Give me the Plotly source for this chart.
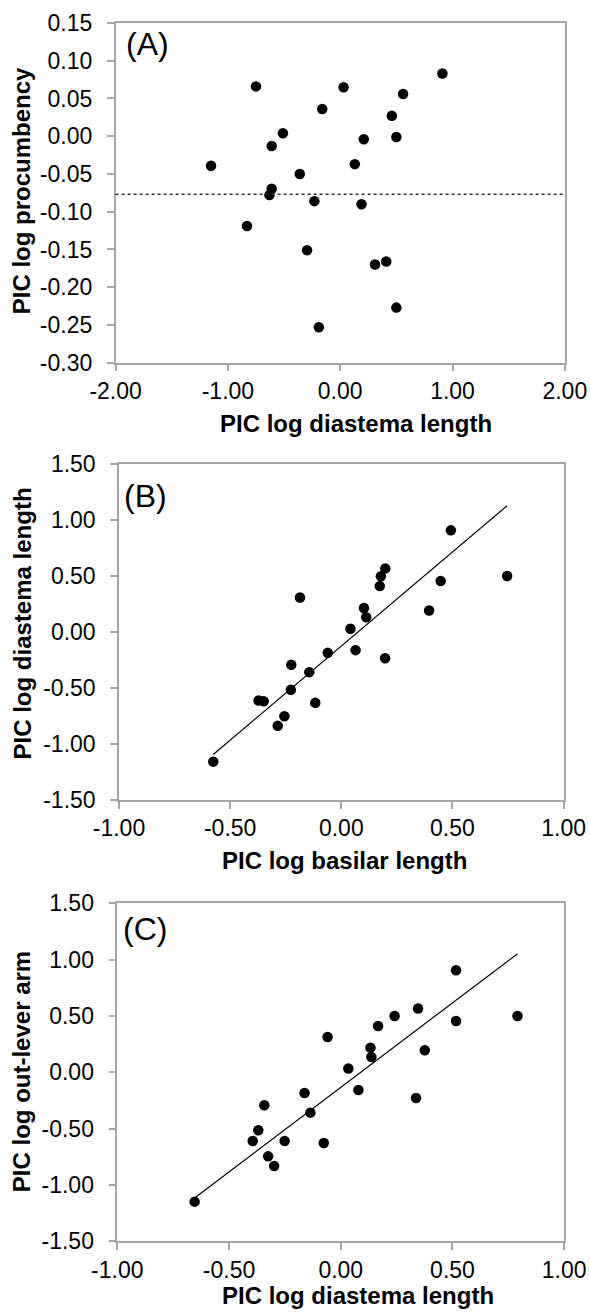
import plotly.graph_objects as go

# ---------------- data ----------------
# Panel A: PIC log diastema length (x) vs PIC log procumbency (y)
a_x = [0.91, -0.75, 0.03, 0.56, -0.16, 0.46, -0.51, 0.21, 0.50, -0.61, -1.15, 0.13,
       -0.36, -0.61, -0.63, -0.23, 0.19, -0.83, -0.295, 0.31, 0.41, 0.50, -0.19]
a_y = [0.083, 0.066, 0.065, 0.056, 0.036, 0.027, 0.004, -0.004, -0.001, -0.013, -0.039, -0.037,
       -0.050, -0.0695, -0.078, -0.086, -0.090, -0.119, -0.151, -0.170, -0.166, -0.227, -0.253]
a_ref_line = -0.077

# Panel B: PIC log basilar length (x) vs PIC log diastema length (y)
b_x = [0.493, 0.746, 0.198, 0.178, 0.173, 0.447, -0.186, 0.102, 0.112, 0.395, 0.041, -0.061,
       0.064, 0.197, -0.225, -0.144, -0.227, -0.372, -0.349, -0.117, -0.256, -0.286, -0.576]
b_y = [0.904, 0.497, 0.565, 0.494, 0.407, 0.452, 0.306, 0.211, 0.130, 0.190, 0.027, -0.188,
       -0.164, -0.236, -0.295, -0.360, -0.518, -0.613, -0.619, -0.634, -0.753, -0.839, -1.158]
b_slope, b_intercept = 1.678, -0.128

# Panel C: PIC log diastema length (x) vs PIC log out-lever arm (y)
c_x = [0.516, 0.791, 0.346, 0.241, 0.516, 0.167, -0.059, 0.133, 0.137, 0.376, 0.034, -0.162,
       0.079, 0.337, -0.342, -0.136, -0.369, -0.394, -0.251, -0.076, -0.325, -0.298, -0.654]
c_y = [0.906, 0.500, 0.566, 0.500, 0.456, 0.411, 0.314, 0.219, 0.136, 0.195, 0.033, -0.184,
       -0.157, -0.228, -0.293, -0.358, -0.515, -0.610, -0.610, -0.628, -0.746, -0.832, -1.148]
c_slope, c_intercept = 1.50, -0.134

a_xticks = [-2.0, -1.0, 0.0, 1.0, 2.0]
a_yticks = [-0.30, -0.25, -0.20, -0.15, -0.10, -0.05, 0.00, 0.05, 0.10, 0.15]
bc_xticks = [-1.0, -0.5, 0.0, 0.5, 1.0]
bc_yticks = [-1.5, -1.0, -0.5, 0.0, 0.5, 1.0, 1.5]

panel_labels = ["(A)", "(B)", "(C)"]
x_titles = ["PIC log diastema length", "PIC log basilar length", "PIC log diastema length"]
y_titles = ["PIC log procumbency", "PIC log diastema length", "PIC log out-lever arm"]

# ---------------- layout helpers ----------------
W, H = 590, 1313
FONT = "Liberation Sans, Arial, sans-serif"
AX_COLOR = "#A6A6A6"


def px_x(p):
    return p / W


def px_y(p):
    return 1 - p / H


def fmt(v):
    return f"{v:.2f}"


# plot-area pixel boxes: (left, right, top, bottom)
boxes = [(115.6, 564.8, 23.0, 362.7),
         (119.0, 563.6, 463.5, 800.0),
         (117.3, 564.2, 903.3, 1241.3)]
x_standoffs = [0, 0, 0]

fig = go.Figure()

marker = dict(color="black", size=10.5, line=dict(width=0))

fig.add_trace(go.Scatter(x=a_x, y=a_y, mode="markers", marker=marker,
                         xaxis="x", yaxis="y", showlegend=False))
fig.add_trace(go.Scatter(x=b_x, y=b_y, mode="markers", marker=marker,
                         xaxis="x2", yaxis="y2", showlegend=False))
bx_line = [min(b_x), max(b_x)]
fig.add_trace(go.Scatter(x=bx_line, y=[b_slope * v + b_intercept for v in bx_line],
                         mode="lines", line=dict(color="black", width=1.2),
                         xaxis="x2", yaxis="y2", showlegend=False))
fig.add_trace(go.Scatter(x=c_x, y=c_y, mode="markers", marker=marker,
                         xaxis="x3", yaxis="y3", showlegend=False))
cx_line = [min(c_x), max(c_x)]
fig.add_trace(go.Scatter(x=cx_line, y=[c_slope * v + c_intercept for v in cx_line],
                         mode="lines", line=dict(color="black", width=1.2),
                         xaxis="x3", yaxis="y3", showlegend=False))

fig.add_shape(type="line", xref="x domain", yref="y", x0=0, x1=1,
              y0=a_ref_line, y1=a_ref_line,
              line=dict(color="#333333", width=1.5, dash="dot"))


def axis_common(ticks, rng, domain, anchor, standoff):
    return dict(
        range=rng, domain=domain, anchor=anchor, automargin=False,
        tickmode="array", tickvals=ticks, ticktext=[fmt(t) for t in ticks],
        showgrid=False, zeroline=False,
        showline=True, linecolor=AX_COLOR, linewidth=1.5, mirror=True,
        ticks="outside", ticklen=7, tickwidth=1.5, tickcolor=AX_COLOR,
        ticklabelstandoff=standoff,
        tickfont=dict(family=FONT, size=23, color="black"),
    )


layout = dict(
    width=W, height=H, autosize=False,
    margin=dict(l=0, r=0, t=0, b=0, pad=0, autoexpand=False),
    paper_bgcolor="white", plot_bgcolor="white",
    showlegend=False,
)

names = [("xaxis", "yaxis", "x", "y"), ("xaxis2", "yaxis2", "x2", "y2"),
         ("xaxis3", "yaxis3", "x3", "y3")]
xranges = [[-2, 2], [-1, 1], [-1, 1]]
yranges = [[-0.30, 0.15], [-1.5, 1.5], [-1.5, 1.5]]
xticks_all = [a_xticks, bc_xticks, bc_xticks]
yticks_all = [a_yticks, bc_yticks, bc_yticks]

for i, (xa, ya, xr, yr) in enumerate(names):
    l, r, t, b = boxes[i]
    layout[xa] = axis_common(xticks_all[i], xranges[i], [px_x(l), px_x(r)], yr, x_standoffs[i])
    layout[ya] = axis_common(yticks_all[i], yranges[i], [px_y(b), px_y(t)], xr, 10)

fig.update_layout(**layout)

x_title_pos = [(356.2, 423.5), (344.7, 860.6), (357.5, 1295.0)]
y_title_pos = [(21.5, 190.8), (21.5, 624.0), (21.5, 1071.7)]
label_pos = [(124.2, 44.0), (122.4, 496.0), (121.0, 929.0)]

for i in range(3):
    fig.add_annotation(text=f"<b>{x_titles[i]}</b>", xref="paper", yref="paper",
                       x=px_x(x_title_pos[i][0]), y=px_y(x_title_pos[i][1]),
                       xanchor="center", yanchor="middle", showarrow=False,
                       font=dict(family=FONT, size=24, color="black"))
    fig.add_annotation(text=f"<b>{y_titles[i]}</b>", xref="paper", yref="paper",
                       x=px_x(y_title_pos[i][0]), y=px_y(y_title_pos[i][1]),
                       xanchor="center", yanchor="middle", showarrow=False, textangle=-90,
                       font=dict(family=FONT, size=24, color="black"))
    fig.add_annotation(text=panel_labels[i], xref="paper", yref="paper",
                       x=px_x(label_pos[i][0]), y=px_y(label_pos[i][1]),
                       xanchor="left", yanchor="middle", showarrow=False,
                       font=dict(family=FONT, size=32, color="black"))

# remove the browser's default page margin so the figure sits at the window origin
fig.write_html("out.html", config={"displayModeBar": False},
               post_script="document.body.style.margin='0px';")
